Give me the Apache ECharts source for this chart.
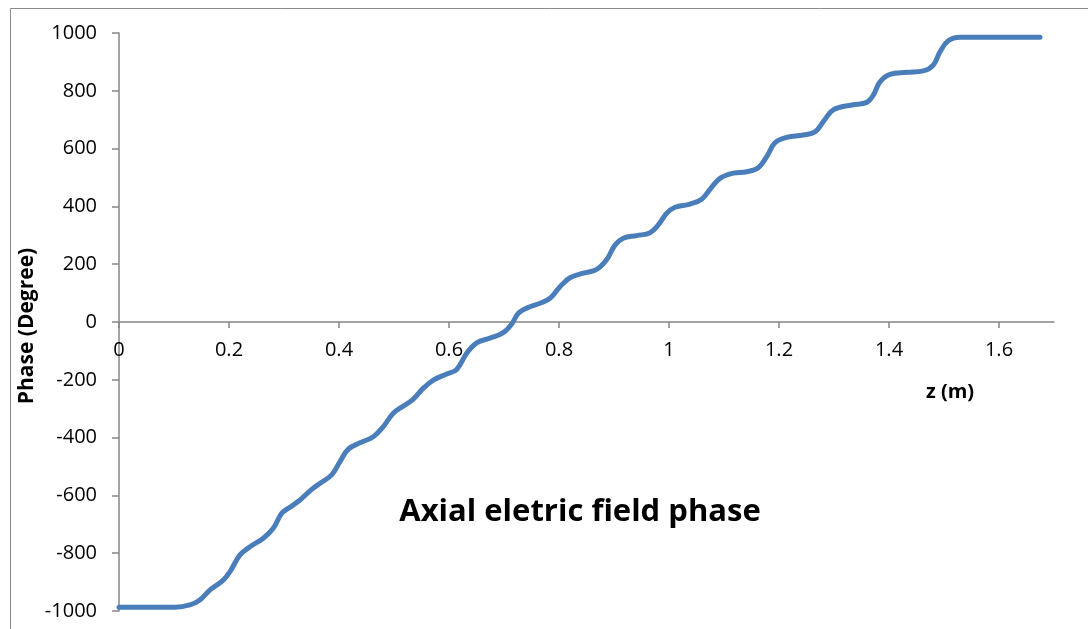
<!DOCTYPE html>
<html>
<head>
<meta charset="utf-8">
<script src="https://cdn.jsdelivr.net/npm/echarts@6/dist/echarts.min.js"></script>
<style>
html,body{margin:0;padding:0;background:#fff;}
#chart{width:1088px;height:629px;}
</style>
</head>
<body>
<div id="chart"></div>
<script>
var zValues = [0, 0.0745, 0.1018, 0.129, 0.147, 0.1655, 0.1896, 0.2018, 0.22, 0.2382, 0.2624, 0.2805, 0.2958, 0.3109, 0.3291, 0.3504, 0.3655, 0.3867, 0.4018, 0.4169, 0.4382, 0.4624, 0.4805, 0.4987, 0.5169, 0.5351, 0.5533, 0.5715, 0.5958, 0.614, 0.6322, 0.6504, 0.6745, 0.6987, 0.714, 0.726, 0.7413, 0.7655, 0.7836, 0.8018, 0.82, 0.8442, 0.8685, 0.8865, 0.9018, 0.9169, 0.9413, 0.9655, 0.9805, 0.9958, 1.0109, 1.0382, 1.0595, 1.0745, 1.0927, 1.1169, 1.1413, 1.1624, 1.1776, 1.1927, 1.214, 1.2442, 1.2655, 1.2805, 1.2987, 1.3327, 1.3595, 1.3715, 1.3836, 1.4018, 1.4322, 1.4624, 1.4805, 1.4927, 1.5078, 1.5291, 1.5776, 1.6745];
var phaseValues = [-987, -987, -987, -979, -962, -927, -893, -864, -806, -778, -748, -714, -662, -641, -616, -579, -558, -529, -483, -440, -418, -397, -362, -316, -291, -267, -229, -201, -180, -164, -108, -72, -56, -37, -7, 30, 48, 65, 82, 122, 153, 169, 182, 215, 266, 290, 299, 309, 336, 376, 397, 408, 425, 459, 497, 515, 520, 534, 572, 620, 639, 647, 658, 693, 734, 751, 760, 785, 831, 857, 864, 869, 889, 935, 973, 985, 985, 985];
var xTicks = [0, 0.2, 0.4, 0.6, 0.8, 1, 1.2, 1.4, 1.6];
var titleText = 'Axial eletric field phase';
var xName = 'z (m)';
var yName = 'Phase (Degree)';

var seriesData = zValues.map(function (z, i) { return [z, phaseValues[i]]; });
var font = '"Open Sans", "Noto Sans", sans-serif';
var axisGray = '#868686';

var W = 1088, H = 629;
var gridTop = 33, gridBottom = 18, yMin = -1000, yMax = 1000;
var gridH = H - gridTop - gridBottom;
// distance from the grid bottom up to the value 0 on the y axis
var zeroOffset = -gridH * (0 - yMin) / (yMax - yMin);

var chart = echarts.init(document.getElementById('chart'), null, {renderer: 'canvas'});
chart.setOption({
  backgroundColor: '#ffffff',
  animation: false,
  grid: {left: 119, right: 34, top: gridTop, bottom: gridBottom, containLabel: false, outerBoundsMode: 'none'},
  graphic: [
    {type: 'rect', left: 8, top: 6, shape: {width: 1200, height: 800}, style: {fill: 'none', stroke: '#8a8a8a', lineWidth: 1}, silent: true, z: -10},
    {type: 'text', x: 580, y: 512, style: {text: titleText, font: 'bold 31px ' + font, fill: '#000', align: 'center', verticalAlign: 'middle'}},
    {type: 'text', x: 950, y: 392, style: {text: xName, font: 'bold 20px ' + font, fill: '#000', align: 'center', verticalAlign: 'middle'}},
    {type: 'text', x: 27, y: 326, rotation: Math.PI / 2, style: {text: yName, font: 'bold 21px ' + font, fill: '#000', align: 'center', verticalAlign: 'middle'}}
  ],
  xAxis: {
    type: 'value', min: 0, max: 1.7, position: 'bottom', offset: zeroOffset,
    axisLine: {onZero: false, lineStyle: {color: axisGray, width: 1.5}},
    axisTick: {show: true, inside: false, length: 6, customValues: xTicks, lineStyle: {color: axisGray, width: 1.5}},
    axisLabel: {customValues: xTicks, margin: 18, color: '#000', fontSize: 20, fontFamily: font, formatter: function (v) { return String(Math.round(v * 10) / 10); }},
    splitLine: {show: false}
  },
  yAxis: {
    type: 'value', min: yMin, max: yMax, interval: 200,
    axisLine: {show: true, lineStyle: {color: axisGray, width: 1.5}},
    axisTick: {show: true, inside: false, length: 7, lineStyle: {color: axisGray, width: 1.5}},
    axisLabel: {margin: 22, color: '#000', fontSize: 20, fontFamily: font, formatter: function (v) { return String(v); }},
    splitLine: {show: false}
  },
  series: [{
    type: 'line', data: seriesData, smooth: 0.4, symbol: 'none',
    lineStyle: {color: '#4a7ebb', width: 5, cap: 'round', join: 'round'}
  }]
});
</script>
</body>
</html>
